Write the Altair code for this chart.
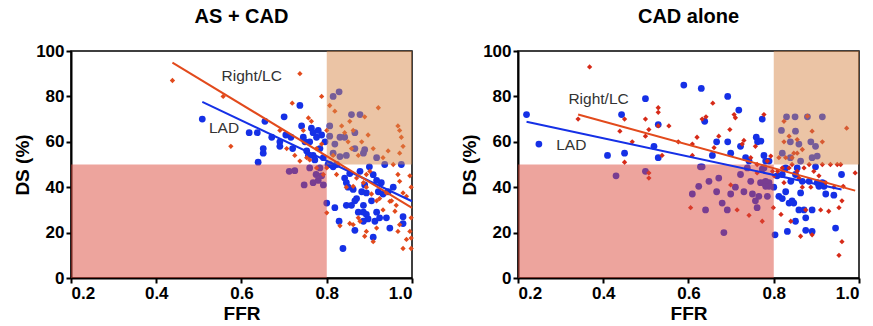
import altair as alt
import pandas as pd

# ---- AS + CAD panel -------------------------------------------------------
as_lad_ffr = [0.508, 0.618, 0.637, 0.639, 0.651, 0.651, 0.655, 0.671, 0.69, 0.69,
              0.70, 0.704, 0.716, 0.72, 0.737, 0.741, 0.745, 0.749, 0.753, 0.757,
              0.76, 0.764, 0.768, 0.768, 0.772, 0.776, 0.78, 0.784, 0.788, 0.792,
              0.796, 0.80, 0.803, 0.807, 0.815, 0.819, 0.823, 0.829, 0.838, 0.842,
              0.846, 0.85, 0.854, 0.858, 0.862, 0.866, 0.87, 0.874, 0.878, 0.882,
              0.886, 0.889, 0.893, 0.897, 0.90, 0.905, 0.909, 0.909, 0.913, 0.917,
              0.921, 0.924, 0.928, 0.932, 0.936, 0.94, 0.944, 0.948, 0.956, 0.975,
              0.979, 0.979, 0.886, 0.846, 0.866, 0.886, 0.893, 0.917,
              0.815, 0.829, 0.807, 0.819, 0.831, 0.842, 0.858, 0.878, 0.866, 0.846,
              0.831, 0.815, 0.886, 0.917, 0.889, 0.866, 0.807,
              0.712, 0.725, 0.747, 0.768, 0.775, 0.78, 0.784, 0.788, 0.792, 0.76]
as_lad_ds = [70, 64, 64, 51, 57, 55, 69, 62, 60, 58,
             71, 63, 62, 57, 76, 67, 62, 60, 56, 54,
             60, 66, 64, 54, 52, 62, 65, 57, 63, 53,
             60, 33, 50, 50, 49, 31, 50, 25, 13, 44,
             42, 40, 46, 32, 39, 21, 35, 29, 47, 38,
             32, 41, 37.5, 26, 49, 34, 45.5, 18, 25, 29,
             38, 26.5, 42, 37, 50, 26.5, 38, 22, 40, 50,
             27, 24, 29, 32, 34, 25, 28, 43,
             80, 82, 67, 59, 62, 62, 72, 72, 64, 54,
             53.5, 55, 55, 53, 56.5, 57, 62.5,
             47, 47.3, 41, 42, 45.6, 43, 48.5, 45, 41, 48.5]

as_rlc_ffr = [0.438, 0.557, 0.575, 0.737, 0.719, 0.788, 0.69, 0.706, 0.725, 0.745,
              0.757, 0.764, 0.776, 0.788, 0.753, 0.80, 0.807, 0.819, 0.815, 0.827,
              0.835, 0.842, 0.85, 0.854, 0.858, 0.862, 0.874, 0.882, 0.889, 0.897,
              0.901, 0.909, 0.921, 0.932, 0.944, 0.956, 0.967, 0.971, 0.975, 0.979,
              0.971, 0.967, 0.971, 0.979, 0.987, 0.995, 0.998, 0.998, 0.995, 0.998,
              0.998, 0.979, 0.987, 0.967, 0.971, 0.96, 0.948, 0.94, 0.924, 0.917,
              0.909, 0.893, 0.889, 0.878, 0.874, 0.862, 0.854, 0.831, 0.80, 0.823,
              0.846, 0.87, 0.893, 0.905, 0.917, 0.932, 0.952, 0.963, 0.893, 0.886,
              0.862, 0.80, 0.792, 0.776, 0.76, 0.737]
as_rlc_ds = [87, 80, 58, 90, 77, 80, 65, 57, 54, 65,
             70.5, 69, 57, 59, 53, 65, 76, 73.5, 54, 50,
             67, 64, 60, 69, 57, 65, 54, 60, 71, 63,
             47, 57, 75, 53, 56, 50, 67, 65, 62, 58,
             55, 45.6, 42.6, 37.5, 36, 45, 40, 26.5, 20.5, 17.6,
             13, 13, 17, 20.5, 23.5, 29.4, 33.8, 37.5, 35, 22,
             16, 20.5, 18.4, 25, 26.5, 23.5, 24, 23, 28.7, 45.6,
             40, 44, 40, 37, 34, 30, 34, 32, 45.6, 42,
             40.4, 48.5, 45.6, 48.5, 52, 51.5]

# ---- CAD alone panel ------------------------------------------------------
cad_lad_ffr = [0.22, 0.249, 0.41, 0.443, 0.45, 0.499, 0.519, 0.529, 0.529, 0.589,
               0.63, 0.638, 0.656, 0.666, 0.692, 0.692, 0.699, 0.718, 0.722, 0.734,
               0.742, 0.759, 0.762, 0.77, 0.773, 0.777, 0.781, 0.789, 0.80, 0.803,
               0.808, 0.812, 0.82, 0.82, 0.828, 0.832, 0.836, 0.84, 0.843, 0.847,
               0.851, 0.855, 0.859, 0.863, 0.871, 0.875, 0.875, 0.883, 0.89, 0.89,
               0.898, 0.902, 0.906, 0.914, 0.918, 0.922, 0.941, 0.945, 0.959, 0.789,
               0.828, 0.851, 0.867,
               0.43, 0.499, 0.609, 0.624, 0.628, 0.632, 0.64, 0.648, 0.666, 0.671,
               0.679, 0.683, 0.691, 0.699, 0.71, 0.722, 0.73, 0.738, 0.746, 0.75,
               0.757, 0.761, 0.765, 0.769, 0.773, 0.777, 0.781, 0.785, 0.789, 0.781,
               0.777,
               0.818, 0.82, 0.83, 0.85, 0.879, 0.914, 0.839, 0.851, 0.859, 0.887,
               0.898, 0.89, 0.902, 0.863, 0.839]
cad_lad_ds = [72, 59, 54, 72, 55, 79, 58, 67.6, 53, 85,
              83.5, 69, 54, 60, 80, 60, 55, 74, 58, 53,
              51.5, 62, 60, 60.3, 70, 54, 51.5, 42, 40, 19,
              45, 36, 35, 45.6, 38, 20.5, 33, 42.6, 34, 33,
              25, 48.5, 30, 37.5, 30, 26.5, 21, 42.6, 30, 20.5,
              49, 42, 40.4, 42, 40.4, 37, 36.5, 22, 45.6, 51.5,
              48.5, 45.6, 42.6,
              45, 47, 37, 40.4, 49, 49, 30, 42.6, 38, 44,
              33, 20, 30, 37, 40, 45.6, 38, 48.5, 42.6, 37,
              34, 31, 36, 42, 48, 42, 42.6, 36, 40.4, 40.4,
              48.5,
              65, 55, 71, 71, 71, 71, 60, 64.7, 59, 60,
              58, 53, 53.7, 51.5, 53]

cad_rlc_ffr = [0.368, 0.341, 0.439, 0.45, 0.45, 0.468, 0.499, 0.499, 0.507, 0.507,
               0.507, 0.529, 0.529, 0.529, 0.554, 0.538, 0.576, 0.609, 0.609, 0.605,
               0.62, 0.632, 0.641, 0.657, 0.66, 0.671, 0.697, 0.699, 0.707, 0.71,
               0.714, 0.726, 0.73, 0.742, 0.746, 0.757, 0.761, 0.761, 0.773, 0.777,
               0.785, 0.793, 0.797, 0.799, 0.801, 0.809, 0.817, 0.82, 0.824, 0.828,
               0.836, 0.84, 0.843, 0.855, 0.859, 0.863, 0.867, 0.871, 0.875, 0.883,
               0.887, 0.89, 0.894, 0.906, 0.91, 0.914, 0.922, 0.929, 0.933, 0.941,
               0.949, 0.953, 0.953, 0.957, 0.96, 0.96, 0.963, 0.991, 0.971,
               0.824, 0.824, 0.836, 0.847, 0.855, 0.867, 0.879, 0.89, 0.914, 0.855,
               0.812, 0.843]
cad_rlc_ds = [93, 70, 64.7, 70, 51, 60, 70, 62.5, 65.4, 46.3,
              44, 75, 73, 67, 67, 54, 60, 59, 54, 31,
              62, 70, 71, 77, 57.4, 62.5, 65.4, 41, 72, 70.6,
              30, 59, 60.6, 27.6, 53, 58, 50, 46.3, 25, 72,
              51.5, 53.7, 47, 31, 45, 47, 28, 48.5, 42, 53,
              48.5, 25, 50, 47, 44, 18.4, 40, 48.5, 30, 50,
              40, 19, 47, 45, 30, 50, 42, 29.4, 50, 40,
              50, 31, 10, 50, 34, 16, 40.4, 46.3, 66,
              69, 60, 62.5, 55, 55, 56.6, 71.3, 64.7, 60, 61,
              53, 53]

# Linear fits (FFR start/end, DS start/end) for each vessel group
as_fit_ffr = {"LAD": [0.508, 1.0], "Right/LC": [0.438, 1.0]}
as_fit_ds = {"LAD": [77.6, 33.8], "Right/LC": [94.9, 30.9]}
cad_fit_ffr = {"LAD": [0.22, 0.959], "Right/LC": [0.341, 0.991]}
cad_fit_ds = {"LAD": [68.8, 39.0], "Right/LC": [72.0, 38.5]}

# Series labels placed inside each panel
as_label_ffr = {"Right/LC": 0.624, "LAD": 0.559}
as_label_ds = {"Right/LC": 89, "LAD": 66}
cad_label_ffr = {"Right/LC": 0.389, "LAD": 0.325}
cad_label_ds = {"Right/LC": 79, "LAD": 58.8}

# Shaded zones: discordant quadrants (FFR <= 0.8 & DS < 50, FFR > 0.8 & DS >= 50)
zone_ffr_lo = [0.2, 0.8]
zone_ffr_hi = [0.8, 1.0]
zone_ds_lo = [0, 50]
zone_ds_hi = [50, 100]
zone_colors = ["#dc4a3c", "#d78a4c"]

BLUE = "#1530e6"
FONT = "Liberation Sans"

x_scale = alt.Scale(domain=[0.2, 1.0], nice=False, zero=False)
y_scale = alt.Scale(domain=[0, 100], nice=False)
x_axis = alt.Axis(title="FFR", values=[0.2, 0.4, 0.6, 0.8, 1.0], format=".1f")
y_axis = alt.Axis(title="DS (%)", values=[0, 20, 40, 60, 80, 100])


def panel(title, lad_x, lad_y, rlc_x, rlc_y, fit_x, fit_y, lab_x, lab_y, red):
    lad = pd.DataFrame({"ffr": lad_x, "ds": lad_y})
    rlc = pd.DataFrame({"ffr": rlc_x, "ds": rlc_y})
    zones = pd.DataFrame({"x": zone_ffr_lo, "x2": zone_ffr_hi,
                          "y": zone_ds_lo, "y2": zone_ds_hi, "c": zone_colors})
    fits = pd.DataFrame([
        {"group": g, "ffr": fx, "ds": fy}
        for g in ["LAD", "Right/LC"]
        for fx, fy in zip(fit_x[g], fit_y[g])
    ])
    labels = pd.DataFrame({"group": list(lab_x.keys()),
                           "ffr": list(lab_x.values()),
                           "ds": [lab_y[k] for k in lab_x]})

    lad_pts = alt.Chart(lad).mark_circle(size=46, opacity=1, color=BLUE).encode(
        x=alt.X("ffr:Q", scale=x_scale, axis=x_axis),
        y=alt.Y("ds:Q", scale=y_scale, axis=y_axis),
    )
    rlc_pts = alt.Chart(rlc).mark_point(shape="diamond", filled=True, size=28,
                                        opacity=1, color=red).encode(
        x="ffr:Q", y="ds:Q")
    shade = alt.Chart(zones).mark_rect(opacity=0.5).encode(
        x="x:Q", x2="x2", y="y:Q", y2="y2",
        color=alt.Color("c:N", scale=None))
    lines = alt.Chart(fits).mark_line(strokeWidth=2).encode(
        x="ffr:Q", y="ds:Q", detail="group:N",
        color=alt.Color("group:N", scale=alt.Scale(domain=["LAD", "Right/LC"],
                                                   range=[BLUE, red]),
                        legend=None))
    text = alt.Chart(labels).mark_text(font=FONT, fontSize=15.5, color="#333333",
                                       align="center", baseline="middle").encode(
        x="ffr:Q", y="ds:Q", text="group:N")

    return alt.layer(lad_pts, rlc_pts, shade, lines, text).properties(
        width=341, height=227,
        title=alt.TitleParams(title, font=FONT, fontSize=20, fontWeight="bold",
                              offset=15, anchor="middle"),
    )


left = panel("AS + CAD", as_lad_ffr, as_lad_ds, as_rlc_ffr, as_rlc_ds,
             as_fit_ffr, as_fit_ds, as_label_ffr, as_label_ds, "#e24a1c")
right = panel("CAD alone", cad_lad_ffr, cad_lad_ds, cad_rlc_ffr, cad_rlc_ds,
              cad_fit_ffr, cad_fit_ds, cad_label_ffr, cad_label_ds, "#d62a18")

chart = alt.hconcat(left, right, spacing=42).properties(
    padding={"left": 12, "top": 6, "right": 5, "bottom": 5}
).configure_axis(
    grid=False, domainColor="black", domainWidth=2, tickColor="black",
    tickWidth=2, tickSize=5, labelFont=FONT, labelFontSize=17,
    labelFontWeight="bold", labelColor="black", titleFont=FONT,
    titleFontSize=19, titleFontWeight="bold", titleColor="black",
    labelPadding=2, titlePadding=3,
).configure_view(stroke="black", strokeWidth=1.5)

chart.save("out.html", embed_options={"renderer": "svg", "actions": False})
